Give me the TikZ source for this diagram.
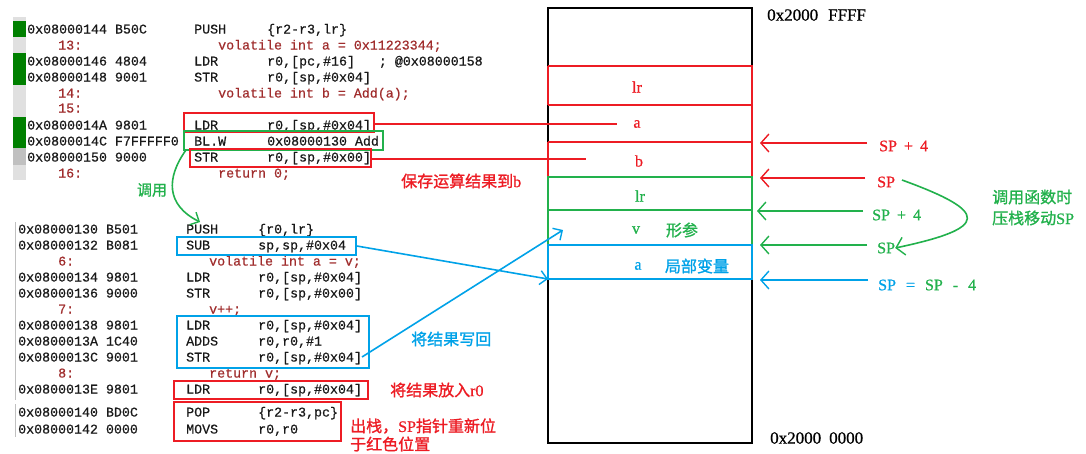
\documentclass[tikz,border=0pt]{standalone}
\usepackage{fontspec}
\setmainfont{Liberation Serif}[FakeBold=0.8]
\setmonofont{Liberation Mono}[FakeBold=0.5]
\newfontfamily\cjk{Noto Sans CJK SC}[FakeBold=1.2]
\usetikzlibrary{arrows.meta,fit}
\definecolor{pred}{RGB}{237,28,36}
\definecolor{pgreen}{RGB}{34,177,76}
\definecolor{pblue}{RGB}{0,162,232}
\definecolor{srcred}{RGB}{160,45,45}
\definecolor{barg}{RGB}{0,128,0}
\definecolor{barl}{RGB}{224,224,224}
\definecolor{barm}{RGB}{192,192,192}
\tikzset{
  codetxt/.style={anchor=base west, inner sep=0pt, font=\fontsize{13.3}{16}\ttfamily, text=black!90},
  srctxt/.style={codetxt, text=srcred},
  lbl/.style={inner sep=0pt, font=\fontsize{16}{18}\selectfont},
  clbl/.style={inner sep=0pt, font=\fontsize{16}{18}\cjk},
  fitbox/.style={draw, line width=1.6pt, inner sep=0pt},
  lw/.style={line width=1.6pt},
  tip/.style={-{Straight Barb[length=8pt,width=18pt,line width=1.4pt]}},
  smalltip/.style={-{Straight Barb[length=7pt,width=14pt,line width=1.4pt]}},
}
\newcommand\CodeRow[8]{%
  \node[codetxt] (#1a) at (#2,#5) {#6};
  \node[codetxt] (#1i) at (#3,#5) {#7};
  \node[codetxt] (#1o) at (#4,#5) {#8};}
\newcommand\gsp{\hspace{7pt}}
\newcommand\wsp{\hspace{10pt}}
\begin{document}
\begin{tikzpicture}[x=1pt,y=-1pt]
\useasboundingbox (0,0) rectangle (1086,453);
\fill[white] (0,0) rectangle (1086,453);

% ---------- left margin bars ----------
\fill[barl] (13,17) rectangle (26,180);
\fill[barg] (13,21) rectangle (26,37);
\fill[barg] (13,53) rectangle (26,85);
\fill[barg] (13,117) rectangle (26,148);
\fill[barm] (13,148) rectangle (26,165);
\draw[barm, line width=1.5pt] (15.5,222) -- (15.5,400);
\draw[barm, line width=1.5pt] (15.5,404) -- (15.5,437);

% ---------- upper code block ----------
\CodeRow{u1}{27}{194}{267}{33.5}{0x08000144 B50C}{PUSH}{\{r2-r3,lr\}}
\node[srctxt] (u2n) at (58,49.5) {13:};
\node[srctxt] (u2t) at (218,49.5) {volatile int a = 0x11223344;};
\CodeRow{u3}{27}{194}{267}{65.5}{0x08000146 4804}{LDR}{r0,[pc,\#16]~~~;~@0x08000158}
\CodeRow{u4}{27}{194}{267}{81.5}{0x08000148 9001}{STR}{r0,[sp,\#0x04]}
\node[srctxt] (u5n) at (58,97.5) {14:};
\node[srctxt] (u5t) at (218,97.5) {volatile int b = Add(a);};
\node[srctxt] (u6n) at (58,112.5) {15:};
\CodeRow{u7}{27}{194}{267}{129.5}{0x0800014A 9801}{LDR}{r0,[sp,\#0x04]}
\CodeRow{u8}{27}{194}{267}{145.5}{0x0800014C F7FFFFF0}{BL.W}{0x08000130 Add}
\CodeRow{u9}{27}{194}{267}{161.5}{0x08000150 9000}{STR}{r0,[sp,\#0x00]}
\node[srctxt] (u10n) at (58,177.5) {16:};
\node[srctxt] (u10t) at (218,177.5) {return 0;};

% ---------- lower code block ----------
\CodeRow{l1}{18}{186}{258}{233.5}{0x08000130 B501}{PUSH}{\{r0,lr\}}
\CodeRow{l2}{18}{186}{258}{249.5}{0x08000132 B081}{SUB}{sp,sp,\#0x04}
\node[srctxt] (l3n) at (58,265.5) {6:};
\node[srctxt] (l3t) at (209,265.5) {volatile int a = v;};
\CodeRow{l4}{18}{186}{258}{281.5}{0x08000134 9801}{LDR}{r0,[sp,\#0x04]}
\CodeRow{l5}{18}{186}{258}{297.5}{0x08000136 9000}{STR}{r0,[sp,\#0x00]}
\node[srctxt] (l6n) at (58,313.5) {7:};
\node[srctxt] (l6t) at (209,313.5) {v++;};
\CodeRow{l7}{18}{186}{258}{329.5}{0x08000138 9801}{LDR}{r0,[sp,\#0x04]}
\CodeRow{l8}{18}{186}{258}{345.5}{0x0800013A 1C40}{ADDS}{r0,r0,\#1}
\CodeRow{l9}{18}{186}{258}{361.5}{0x0800013C 9001}{STR}{r0,[sp,\#0x04]}
\node[srctxt] (l10n) at (58,377.5) {8:};
\node[srctxt] (l10t) at (209,377.5) {return v;};
\CodeRow{l11}{18}{186}{258}{393.5}{0x0800013E 9801}{LDR}{r0,[sp,\#0x04]}
\CodeRow{l12}{18}{186}{258}{416.5}{0x08000140 BD0C}{POP}{\{r2-r3,pc\}}
\CodeRow{l13}{18}{186}{258}{433.5}{0x08000142 0000}{MOVS}{r0,r0}

% ---------- code boxes ----------
\node (ldrbox) [fitbox, draw=pred, fit={(184,113) (374,132)}] {};
\node (blbox)  [fitbox, draw=pgreen, fit={(184,131) (383,150)}] {};
\node (strbox) [fitbox, draw=pred, fit={(190,149) (371,167)}] {};
\node (subbox) [fitbox, draw=pblue, fit={(177,237) (356,255)}] {};
\node (incbox) [fitbox, draw=pblue, fit={(177,316) (369,368)}] {};
\node (retbox) [fitbox, draw=pred, fit={(174,381) (368,399)}] {};
\node (popbox) [fitbox, draw=pred, fit={(174,402) (341,441)}] {};

% ---------- stack ----------
\node (stack) [fitbox, draw=black, line width=1.5pt, fit={(548,8) (752,443)}] {};
\draw[pred, lw] (548,66) -- (752,66) -- (752,177);
\draw[pred, lw] (548,105) -- (752,105);
\draw[pred, lw] (548,142) -- (752,142);
\draw[pred, lw] (548,66) -- (548,105);
\draw[pred, lw] (548,142) -- (548,177);
\node (slr2) [fitbox, draw=pgreen, fit={(548,177) (752,210)}] {};
\draw[pgreen, lw] (548,210) -- (548,245);
\draw[pgreen, lw] (752,210) -- (752,245);
\node (sloc) [fitbox, draw=pblue, fit={(548,245) (752,279)}] {};

\node[lbl, text=pred] (tlr1) at (637,87) {lr};
\node[lbl, text=pred] (ta1) at (637,124) {a};
\node[lbl, text=pred] (tb1) at (639,161) {b};
\node[lbl, text=pgreen] (tlr2) at (640,196) {lr};
\node[lbl, text=pgreen] (tv) at (636,230) {v};
\node[clbl, text=pgreen] (tparam) at (682,230) {形参};
\node[lbl, text=pblue] (ta2) at (638,266) {a};
\node[clbl, text=pblue] (tlocal) at (697,266) {局部变量};

\node[lbl, anchor=west, font=\fontsize{17}{18}\selectfont] (top) at (767,15) {0x2000\hspace{10pt}FFFF};
\node[lbl, anchor=west, font=\fontsize{17}{18}\selectfont] (bot) at (770,438) {0x2000\hspace{8pt}0000};

% ---------- connectors from code to stack ----------
\coordinate (ra) at (617,124);
\coordinate (rb) at (586,159);
\draw[pred, lw] (ldrbox.east |- ra) -- (ra);
\draw[pred, lw] (strbox.east |- rb) -- (rb);
\coordinate (sa) at (548,279);
\draw[pblue, lw, smalltip] (subbox.east) -- (sa);
\coordinate (bs) at (362,357);
\coordinate (bt) at (563,230);
\draw[pblue, lw, smalltip] (bs) -- (bt);
\coordinate (g0) at (186,150);
\coordinate (g1) at (200,222);
\draw[pgreen, lw, smalltip] (g0) .. controls (166,178) and (166,205) .. (g1);

% ---------- labels on code side ----------
\node[clbl, text=pred, anchor=west] (save) at (401,181) {保存运算结果到{\rmfamily b}};
\node[clbl, text=pgreen, font=\fontsize{15}{16}\cjk] (call) at (152,190) {调用};
\node[clbl, text=pblue, anchor=west] (wb) at (411,339) {将结果写回};
\node[clbl, text=pred, anchor=west] (put) at (390,390) {将结果放入{\rmfamily r0}};
\node[clbl, text=pred, anchor=west] (pop1) at (350,426) {出栈，{\rmfamily SP}指针重新位};
\node[clbl, text=pred, anchor=west] (pop2) at (350,444) {于红色位置};

% ---------- SP arrows on the right ----------
\coordinate (r1s) at (867,143); \coordinate (r1e) at (760,143);
\coordinate (r2s) at (865,178); \coordinate (r2e) at (760,178);
\coordinate (g1s) at (863,211); \coordinate (g1e) at (757,211);
\coordinate (g2s) at (867,245); \coordinate (g2e) at (760,245);
\coordinate (b1s) at (868,280); \coordinate (b1e) at (760,280);
\draw[pred, lw, tip] (r1s) -- (r1e);
\draw[pred, lw, tip] (r2s) -- (r2e);
\draw[pgreen, lw, tip] (g1s) -- (g1e);
\draw[pgreen, lw, tip] (g2s) -- (g2e);
\draw[pblue, lw, tip] (b1s) -- (b1e);

\node[lbl, anchor=west, text=pred] (sp4r) at (879,146) {SP\gsp+\gsp4};
\node[lbl, anchor=west, text=pred] (spr) at (877,182) {SP};
\node[lbl, anchor=west, text=pgreen] (sp4g) at (872,215) {SP\gsp+\gsp4};
\node[lbl, anchor=west, text=pgreen] (spg) at (877,248) {SP};
\node[lbl, anchor=west] (spsub) at (878,285) {\textcolor{pblue}{SP\wsp=}\wsp\textcolor{pgreen}{SP\wsp-\wsp4}};

\coordinate (gc0) at (902,180);
\draw[pgreen, lw, tip] (gc0) .. controls (990,212) and (990,228) .. (spg.east);

\node[clbl, text=pgreen, anchor=west] (note1) at (992,197) {调用函数时};
\node[clbl, text=pgreen, anchor=west] (note2) at (992,218) {压栈移动{\rmfamily SP}};
\end{tikzpicture}
\end{document}
